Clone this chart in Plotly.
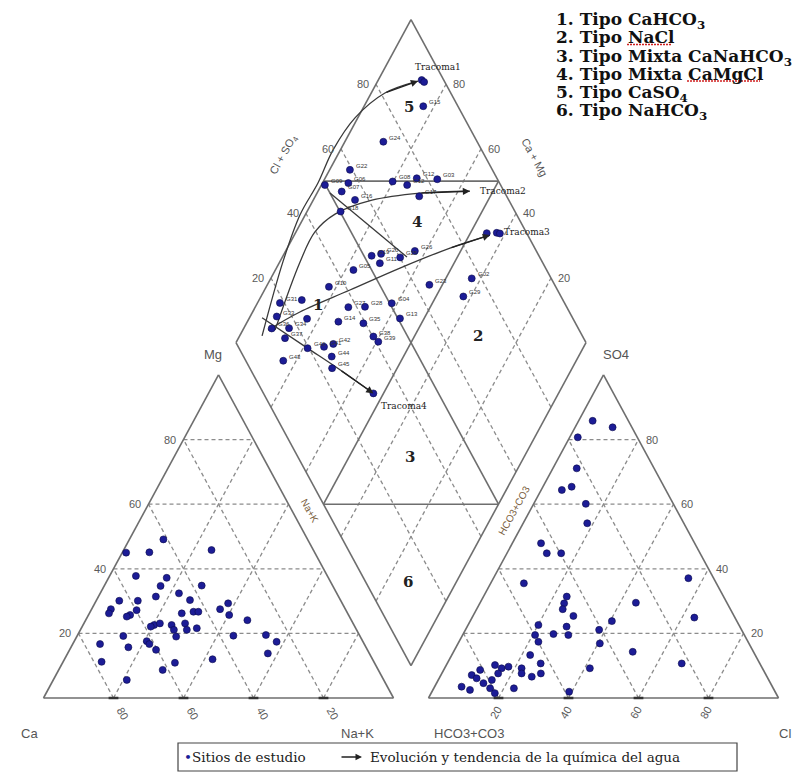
import numpy as np
import plotly.graph_objects as go

# ---------------- data (percent) ----------------
# Cation triangle: Mg %, Na+K %  (Ca = 100 - Mg - Na+K)
cat_mg = [49.1, 45.0, 45.1, 45.8, 37.8, 37.2, 34.7, 34.8, 32.4, 31.4, 30.1, 30.1, 27.5, 26.2, 27.2,
          25.7, 25.2, 30.3, 26.2, 26.7, 26.7, 27.5, 29.3, 25.7, 24.1, 22.6, 22.1, 23.1, 22.6, 21.1,
          23.1, 21.1, 21.6, 19.0, 19.2, 16.7, 15.7, 17.6, 16.7, 14.9, 19.3, 19.5, 17.4, 13.8, 12.0,
          11.2, 10.9, 8.7, 5.6]
cat_nak = [9.7, 1.1, 7.7, 25.1, 7.5, 16.6, 16.1, 27.8, 22.5, 16.4, 6.6, 11.9, 5.5, 5.6, 13.0,
           11.9, 11.2, 26.7, 26.4, 29.5, 30.9, 36.7, 38.1, 40.2, 46.2, 20.3, 19.6, 21.7, 25.3, 26.7,
           28.9, 30.4, 33.0, 28.4, 13.2, 7.8, 16.4, 20.7, 21.9, 24.7, 44.6, 53.8, 57.9, 57.2, 42.3,
           11.0, 32.1, 29.7, 21.0]

# Anion triangle: SO4 %, Cl %  (HCO3+CO3 = 100 - SO4 - Cl)
an_so4 = [85.8, 83.8, 80.7, 71.1, 64.4, 65.4, 60.1, 54.1, 47.9, 44.8, 44.8, 37.1, 29.5, 35.5, 31.4,
          29.3, 27.5, 25.4, 23.8, 24.9, 22.1, 19.5, 22.6, 19.5, 19.8, 17.4, 21.1, 16.9, 14.3, 10.7,
          13.3, 10.7, 7.6, 6.6, 9.2, 9.2, 1.95, 3.0, 10.2, 9.2, 9.7, 7.6, 5.6, 8.7, 7.1,
          6.1, 4.6, 3.5, 2.5, 3.0, 1.5, 7.6]
an_cl = [4.0, 10.7, 2.3, 6.8, 5.9, 8.2, 14.9, 18.3, 8.2, 11.4, 15.5, 55.7, 44.5, 9.5, 23.8,
         24.1, 24.6, 28.7, 40.5, 63.5, 28.4, 30.2, 20.1, 20.7, 25.8, 22.7, 38.2, 40.5, 51.2, 67.0,
         22.4, 26.7, 28.3, 26.2, 22.0, 41.5, 39.2, 22.9, 13.9, 16.3, 18.0, 16.1, 15.3, 10.4, 8.8,
         10.7, 13.4, 7.7, 10.6, 16.1, 18.2, 22.8]

# Diamond: Cl+SO4 %, Ca+Mg %
dia_clso4 = [93.7, 94.1, 90.1, 73.2, 59.3, 49.8, 56.8, 53.6, 56.1, 69.7, 73.3, 77.1, 82.8, 75.0, 50.2,
             88.6, 91.5, 92.3, 65.3, 52.2, 55.2, 60.1, 53.4, 44.8, 35.2, 64.2, 77.3, 72.1, 18.7, 25.4,
             37.6, 42.4, 50.6, 15.7, 24.0, 32.5, 39.4, 50.6, 12.4, 17.4, 14.7, 40.2, 40.8, 19.6, 24.5,
             27.6, 10.7, 25.2, 23.5, 31.4]
dia_camg = [87.6, 86.6, 83.1, 89.0, 94.2, 99.0, 92.6, 93.2, 88.1, 80.2, 75.5, 73.8, 67.8, 70.3, 90.4,
            45.3, 42.5, 41.5, 63.1, 74.7, 72.3, 66.3, 71.2, 77.7, 82.1, 53.7, 42.6, 42.2, 93.6, 87.8,
            73.4, 68.7, 61.6, 92.4, 83.4, 74.0, 66.6, 56.9, 92.0, 87.1, 86.7, 61.7, 59.5, 78.7, 74.2,
            72.0, 83.7, 70.5, 68.6, 52.9]
dia_codes = ["", "", "G15", "G24", "G22", "G09", "G06", "G07", "G16", "G08", "G12", "G12", "G03", "G17", "G18",
             "", "", "", "G26", "G19", "G20", "G25", "G11", "G05", "G10", "G23", "G02", "G29", "G31", "",
             "G27", "G28", "G04", "G33", "", "G14", "G35", "G13", "G36", "G34", "G37", "G38", "G39", "G40", "G41",
             "G42", "G43", "G44", "G45", ""]

# Evolution / trend paths (Cl+SO4 %, Ca+Mg %)
trend_names = ["Tracoma1", "Tracoma2", "Tracoma3", "Tracoma4"]
trend1_clso4 = [8.5, 25.9, 38.1, 48.2, 57.5, 68.8, 81.2, 92.5]
trend1_camg = [93.6, 99.1, 101.5, 101.3, 102.1, 100.8, 96.1, 88.5]
trend2_clso4 = [13.1, 30.8, 39.7, 48.2, 60.9, 75.7, 90.3]
trend2_camg = [90.8, 94.2, 94.6, 91.6, 83.2, 70.6, 56.6]
trend3_clso4 = [11.1, 23.0, 40.7, 58.4, 75.8, 89.2]
trend3_camg = [92.8, 86.5, 75.6, 64.7, 53.5, 44.1]
trend4_clso4 = [11.3, 19.5, 25.5, 31.4]
trend4_camg = [96.4, 78.9, 66.1, 52.9]
link_clso4 = [50.0, 62.1]
link_camg = [96.3, 64.4]

tick_vals = [20, 40, 60, 80]
facies_labels = ["1", "2", "3", "4", "5", "6"]
facies_clso4 = [29.3, 70.2, 32.0, 70.4, 85.9, 12.1]
facies_camg = [82.4, 31.9, 32.6, 67.0, 87.1, 13.8]
legend_lines = [
    "1. Tipo CaHCO<sub>3</sub>",
    "2. Tipo NaCl",
    "3. Tipo Mixta CaNaHCO<sub>3</sub>",
    "4. Tipo Mixta CaMgCl",
    "5. Tipo CaSO<sub>4</sub>",
    "6. Tipo NaHCO<sub>3</sub>",
]

# ---------------- geometry ----------------
H = np.sqrt(3) / 2
GAP = 0.1
OFF = 8                       # page body margin of the html page
W, HGT = 805 - OFF, 780 - OFF
PXX, PXY = 350.0, 373.0       # pixels per unit
X0, Y0 = 43.5 - OFF, 698.0 - OFF   # figure pixel position of the Ca corner
XR = [-X0 / PXX, (W - X0) / PXX]
YR = [-(HGT - Y0) / PXY, Y0 / PXY]


def px(xpage):
    return (xpage - OFF) / W


def py(ypage):
    return 1 - (ypage - OFF) / HGT


def cat_xy(mg, nak):
    mg, nak = np.asarray(mg) / 100, np.asarray(nak) / 100
    return nak + 0.5 * mg, H * mg


def an_xy(so4, cl):
    so4, cl = np.asarray(so4) / 100, np.asarray(cl) / 100
    return 1 + GAP + cl + 0.5 * so4, H * so4


def dia_xy(s, c):
    s, c = np.asarray(s) / 100, np.asarray(c) / 100
    return 1 + GAP / 2 + 0.5 * (s - c), H * GAP + H * (s + c)


def segs_to_xy(segs):
    xs, ys = [], []
    for (a, b) in segs:
        xs += [float(a[0]), float(b[0]), None]
        ys += [float(a[1]), float(b[1]), None]
    return xs, ys


def pt(f, a, b):
    x, y = f(a, b)
    return (float(x), float(y))


fig = go.Figure()

# dashed grid
grid = []
for k in tick_vals:
    r = 100 - k
    grid += [(pt(cat_xy, k, 0), pt(cat_xy, k, r)),
             (pt(cat_xy, 0, k), pt(cat_xy, r, k)),
             (pt(cat_xy, 0, r), pt(cat_xy, r, 0))]
    grid += [(pt(an_xy, k, 0), pt(an_xy, k, r)),
             (pt(an_xy, 0, k), pt(an_xy, r, k)),
             (pt(an_xy, 0, r), pt(an_xy, r, 0))]
    grid += [(pt(dia_xy, k, 0), pt(dia_xy, k, 100)),
             (pt(dia_xy, 0, k), pt(dia_xy, 100, k))]
gx, gy = segs_to_xy(grid)
fig.add_trace(go.Scatter(x=gx, y=gy, mode="lines", hoverinfo="skip",
                         line=dict(color="#8c8c8c", width=1.3, dash="4px,3px")))

# outlines and facies divisions
outl = []
for f in (cat_xy, an_xy):
    c = [pt(f, *p) for p in [(0, 0), (0, 100), (100, 0)]]
    outl += [(c[0], c[1]), (c[1], c[2]), (c[2], c[0])]
d = [pt(dia_xy, *p) for p in [(0, 0), (0, 100), (100, 100), (100, 0)]]
outl += [(d[0], d[1]), (d[1], d[2]), (d[2], d[3]), (d[3], d[0])]
outl += [(pt(dia_xy, 50, 0), pt(dia_xy, 50, 100)),
         (pt(dia_xy, 0, 50), pt(dia_xy, 100, 50)),
         (pt(dia_xy, 50, 0), pt(dia_xy, 0, 50)),
         (pt(dia_xy, 100, 50), pt(dia_xy, 50, 100))]
ox, oy = segs_to_xy(outl)
fig.add_trace(go.Scatter(x=ox, y=oy, mode="lines", hoverinfo="skip",
                         line=dict(color="#6e6e6e", width=1.6)))

# small tick marks on the triangle bases
tk = []
for k in tick_vals:
    tk.append(pt(cat_xy, 0, k))
    tk.append(pt(an_xy, 0, k))
fig.add_trace(go.Scatter(x=[p[0] for p in tk], y=[p[1] for p in tk], mode="markers", hoverinfo="skip",
                         marker=dict(symbol="line-ew", size=7, line=dict(color="#333", width=2.5))))

# trend curves
trends = [(trend1_clso4, trend1_camg), (trend2_clso4, trend2_camg),
          (trend3_clso4, trend3_camg), (trend4_clso4, trend4_camg)]
for s, c in trends + [(link_clso4, link_camg)]:
    x, y = dia_xy(s, c)
    fig.add_trace(go.Scatter(x=x, y=y, mode="lines", hoverinfo="skip",
                             line=dict(color="#3a3a3a", width=1.3, shape="spline", smoothing=1.0)))

mk = dict(size=7, color="#1c1c96", line=dict(color="#0a0a4a", width=0.6))
x, y = cat_xy(cat_mg, cat_nak)
fig.add_trace(go.Scatter(x=x, y=y, mode="markers", marker=mk))
x, y = an_xy(an_so4, an_cl)
fig.add_trace(go.Scatter(x=x, y=y, mode="markers", marker=mk))
dx, dy = dia_xy(dia_clso4, dia_camg)
fig.add_trace(go.Scatter(x=dx, y=dy, mode="markers", marker=mk))

ann = []
tick_font = dict(family="Liberation Sans", size=11, color="#5a5a5a")
for k in tick_vals:
    x, y = cat_xy(k, 0)
    ann.append(dict(x=float(x), y=float(y), text=str(k), xanchor="right", xshift=-6, font=tick_font))
    x, y = cat_xy(0, k)
    ann.append(dict(x=float(x), y=float(y), text=str(100 - k), textangle=60, yshift=-15, xshift=9, font=tick_font))
    x, y = an_xy(k, 100 - k)
    ann.append(dict(x=float(x), y=float(y), text=str(k), xanchor="left", xshift=5, font=tick_font))
    x, y = an_xy(0, k)
    ann.append(dict(x=float(x), y=float(y), text=str(k), textangle=-60, yshift=-15, xshift=-3, font=tick_font))
    x, y = dia_xy(k, 100)
    ann.append(dict(x=float(x), y=float(y), text=str(k), xanchor="right", xshift=-5, font=tick_font))
    x, y = dia_xy(100, k)
    ann.append(dict(x=float(x), y=float(y), text=str(k), xanchor="left", xshift=5, font=tick_font))

lab_font = dict(family="Liberation Sans", size=13, color="#555555")
for text, (f, a, b), xs, ys in [("Mg", (cat_xy, 100, 0), -6, 20), ("SO4", (an_xy, 100, 0), 12, 20),
                                ("Ca", (cat_xy, 0, 0), -14, -35), ("Na+K", (cat_xy, 0, 100), -36, -35),
                                ("HCO3+CO3", (an_xy, 0, 0), 40, -35), ("Cl", (an_xy, 0, 100), 6, -35)]:
    x, y = f(a, b)
    ann.append(dict(x=float(x), y=float(y), text=text, xshift=xs, yshift=ys, font=lab_font))

side_font = dict(family="Liberation Sans", size=10, color="#7a6040")
x, y = dia_xy(55, 105)
ann.append(dict(x=float(x), y=float(y), text="Cl + SO<sub>4</sub>", textangle=-61, xshift=-40, yshift=-6,
                font=dict(family="Liberation Sans", size=11, color="#555")))
x, y = dia_xy(105, 55)
ann.append(dict(x=float(x), y=float(y), text="Ca + Mg", textangle=61, xshift=36, yshift=-8,
                font=dict(family="Liberation Sans", size=11, color="#555")))
x, y = cat_xy(58, 47)
ann.append(dict(x=float(x), y=float(y), text="Na+K", textangle=61, font=side_font))
x, y = an_xy(58, -4.5)
ann.append(dict(x=float(x), y=float(y), text="HCO3+CO3", textangle=-61, font=side_font))

for t, s, c in zip(facies_labels, facies_clso4, facies_camg):
    x, y = dia_xy(s, c)
    ann.append(dict(x=float(x), y=float(y), text="<b>%s</b>" % t,
                    font=dict(family="DejaVu Serif", size=15, color="#222")))

code_font = dict(family="Liberation Sans", size=6, color="#333")
for xv, yv, code in zip(dx, dy, dia_codes):
    if code:
        ann.append(dict(x=float(xv), y=float(yv), text=code, xanchor="left", xshift=4, yshift=4, font=code_font))

tr_font = dict(family="DejaVu Serif", size=9, color="#222")
offs = [(-5, 14), (8, 0), (12, 3), (6, -13)]
for (s, c), name, (xs, ys) in zip(trends, trend_names, offs):
    x, y = dia_xy(s, c)
    ann.append(dict(x=float(x[-1]), y=float(y[-1]), ax=float(x[-2]), ay=float(y[-2]),
                    axref="x", ayref="y", showarrow=True, arrowhead=2, arrowsize=1.1,
                    arrowwidth=1.3, arrowcolor="#222", text=""))
    ann.append(dict(x=float(x[-1]), y=float(y[-1]), text=name, xanchor="left",
                    xshift=xs, yshift=ys, font=tr_font))

for i, t in enumerate(legend_lines):
    ann.append(dict(xref="paper", yref="paper", x=px(555), y=py(8 + 18.3 * i), text="<b>%s</b>" % t,
                    xanchor="left", yanchor="top", borderpad=0,
                    font=dict(family="DejaVu Serif", size=17, color="#111")))

leg_font = dict(family="DejaVu Serif", size=13.5, color="#222")
ann.append(dict(xref="paper", yref="paper", x=px(182), y=py(757), xanchor="left", yanchor="middle",
                text="<span style='color:#1c1c96'>•</span>Sitios de estudio", font=leg_font))
ann.append(dict(xref="paper", yref="paper", x=px(362), y=py(757), ax=-22, ay=0, showarrow=True,
                arrowhead=2, arrowsize=1, arrowwidth=1.3, arrowcolor="#222", text=""))
ann.append(dict(xref="paper", yref="paper", x=px(368), y=py(757), xanchor="left", yanchor="middle",
                text="Evolución y tendencia de la química del agua", font=leg_font))

for a in ann:
    a.setdefault("showarrow", False)
    a.setdefault("xref", "x")
    a.setdefault("yref", "y")

shapes = [dict(type="rect", xref="paper", yref="paper", x0=px(178), x1=px(737),
               y0=py(771), y1=py(743), line=dict(color="#444", width=1.2))]
# red spell-check underlines in the type legend
for x0p, x1p, yp in [(627, 672, 44.5), (687, 760, 81.0)]:
    shapes.append(dict(type="line", xref="paper", yref="paper", x0=px(x0p), x1=px(x1p),
                       y0=py(yp), y1=py(yp), line=dict(color="#d02020", width=1.5, dash="2px,1px")))

fig.update_layout(
    width=W, height=HGT, autosize=False, showlegend=False,
    margin=dict(l=0, r=0, t=0, b=0), paper_bgcolor="white", plot_bgcolor="white",
    xaxis=dict(range=XR, visible=False, fixedrange=True),
    yaxis=dict(range=YR, visible=False, fixedrange=True),
    annotations=ann,
    shapes=shapes,
)

fig.write_html("out.html")
